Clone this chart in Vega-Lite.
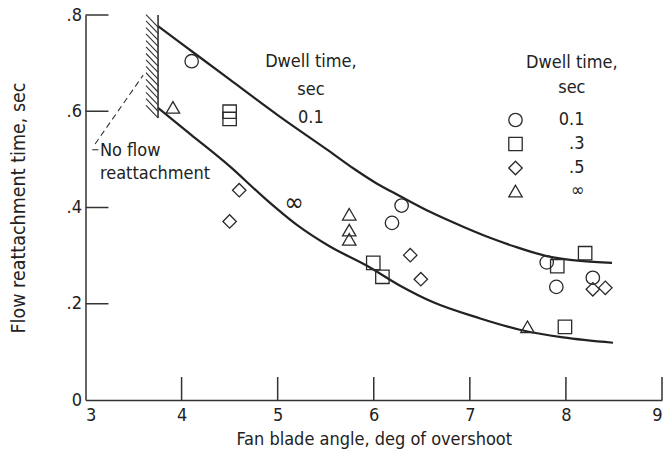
{
  "$schema": "https://vega.github.io/schema/vega-lite/v6.json",
  "width": 576.5,
  "height": 385,
  "autosize": "none",
  "padding": {"left": 85.5, "top": 15, "right": 5, "bottom": 53},
  "background": "white",
  "config": {
    "view": {"stroke": null},
    "font": "DejaVu Sans Condensed, Liberation Sans Narrow, Liberation Sans, sans-serif",
    "axis": {
      "grid": false,
      "domainColor": "#333",
      "domainWidth": 1.5,
      "ticks": false,
      "labelFontSize": 18,
      "labelColor": "#222",
      "titleFontSize": 18,
      "titleFontWeight": "normal",
      "titleColor": "#222",
      "labelFont": "DejaVu Sans Condensed, Liberation Sans Narrow, Liberation Sans, sans-serif",
      "titleFont": "DejaVu Sans Condensed, Liberation Sans Narrow, Liberation Sans, sans-serif"
    },
    "legend": {
      "labelFont": "DejaVu Sans Condensed, Liberation Sans Narrow, Liberation Sans, sans-serif",
      "titleFont": "DejaVu Sans Condensed, Liberation Sans Narrow, Liberation Sans, sans-serif"
    }
  },
  "datasets": {
    "points": [
      {"angle": 4.105, "time": 0.704, "dwell": "0.1"},
      {"angle": 6.29, "time": 0.404, "dwell": "0.1"},
      {"angle": 6.19, "time": 0.368, "dwell": "0.1"},
      {"angle": 7.80, "time": 0.286, "dwell": "0.1"},
      {"angle": 7.90, "time": 0.235, "dwell": "0.1"},
      {"angle": 8.28, "time": 0.254, "dwell": "0.1"},
      {"angle": 4.50, "time": 0.599, "dwell": ".3"},
      {"angle": 4.50, "time": 0.584, "dwell": ".3"},
      {"angle": 5.995, "time": 0.285, "dwell": ".3"},
      {"angle": 6.09, "time": 0.256, "dwell": ".3"},
      {"angle": 8.20, "time": 0.305, "dwell": ".3"},
      {"angle": 7.91, "time": 0.278, "dwell": ".3"},
      {"angle": 7.99, "time": 0.152, "dwell": ".3"},
      {"angle": 4.60, "time": 0.436, "dwell": ".5"},
      {"angle": 4.50, "time": 0.371, "dwell": ".5"},
      {"angle": 6.38, "time": 0.301, "dwell": ".5"},
      {"angle": 6.49, "time": 0.251, "dwell": ".5"},
      {"angle": 8.28, "time": 0.230, "dwell": ".5"},
      {"angle": 8.41, "time": 0.233, "dwell": ".5"},
      {"angle": 3.91, "time": 0.608, "dwell": "∞"},
      {"angle": 5.745, "time": 0.386, "dwell": "∞"},
      {"angle": 5.745, "time": 0.353, "dwell": "∞"},
      {"angle": 5.745, "time": 0.334, "dwell": "∞"},
      {"angle": 7.60, "time": 0.152, "dwell": "∞"}
    ],
    "curves": [
      {"curve": "upper", "angle": 3.755, "time": 0.777},
      {"curve": "upper", "angle": 3.95, "time": 0.748},
      {"curve": "upper", "angle": 4.5, "time": 0.666},
      {"curve": "upper", "angle": 5.0, "time": 0.592},
      {"curve": "upper", "angle": 5.545, "time": 0.516},
      {"curve": "upper", "angle": 5.79, "time": 0.481},
      {"curve": "upper", "angle": 6.03, "time": 0.45},
      {"curve": "upper", "angle": 6.27, "time": 0.424},
      {"curve": "upper", "angle": 6.585, "time": 0.391},
      {"curve": "upper", "angle": 6.93, "time": 0.36},
      {"curve": "upper", "angle": 7.21, "time": 0.337},
      {"curve": "upper", "angle": 7.45, "time": 0.32},
      {"curve": "upper", "angle": 7.8, "time": 0.299},
      {"curve": "upper", "angle": 8.15, "time": 0.289},
      {"curve": "upper", "angle": 8.48, "time": 0.285},
      {"curve": "lower", "angle": 3.755, "time": 0.607},
      {"curve": "lower", "angle": 4.1, "time": 0.551},
      {"curve": "lower", "angle": 4.505, "time": 0.485},
      {"curve": "lower", "angle": 4.85, "time": 0.422},
      {"curve": "lower", "angle": 5.2, "time": 0.364},
      {"curve": "lower", "angle": 5.544, "time": 0.319},
      {"curve": "lower", "angle": 5.93, "time": 0.279},
      {"curve": "lower", "angle": 6.27, "time": 0.238},
      {"curve": "lower", "angle": 6.62, "time": 0.203},
      {"curve": "lower", "angle": 7.1, "time": 0.17},
      {"curve": "lower", "angle": 7.52, "time": 0.146},
      {"curve": "lower", "angle": 7.97, "time": 0.13},
      {"curve": "lower", "angle": 8.49, "time": 0.119}
    ],
    "hatch": [
      {"a1": 3.63, "t1": 0.801, "a2": 3.755, "t2": 0.775},
      {"a1": 3.63, "t1": 0.788, "a2": 3.755, "t2": 0.762},
      {"a1": 3.63, "t1": 0.774, "a2": 3.755, "t2": 0.748},
      {"a1": 3.63, "t1": 0.761, "a2": 3.755, "t2": 0.735},
      {"a1": 3.63, "t1": 0.747, "a2": 3.755, "t2": 0.721},
      {"a1": 3.63, "t1": 0.734, "a2": 3.755, "t2": 0.708},
      {"a1": 3.63, "t1": 0.720, "a2": 3.755, "t2": 0.694},
      {"a1": 3.63, "t1": 0.707, "a2": 3.755, "t2": 0.681},
      {"a1": 3.63, "t1": 0.693, "a2": 3.755, "t2": 0.667},
      {"a1": 3.63, "t1": 0.680, "a2": 3.755, "t2": 0.654},
      {"a1": 3.63, "t1": 0.666, "a2": 3.755, "t2": 0.640},
      {"a1": 3.63, "t1": 0.653, "a2": 3.755, "t2": 0.627},
      {"a1": 3.63, "t1": 0.639, "a2": 3.755, "t2": 0.613},
      {"a1": 3.63, "t1": 0.626, "a2": 3.755, "t2": 0.600},
      {"a1": 3.63, "t1": 0.612, "a2": 3.755, "t2": 0.586}
    ],
    "xticks": [{"value": 4}, {"value": 5}, {"value": 6}, {"value": 7}, {"value": 8}, {"value": 9}],
    "yticks": [{"value": 0.2}, {"value": 0.4}, {"value": 0.6}, {"value": 0.8}]
  },
  "layer": [
    {
      "data": {"name": "hatch"},
      "mark": {"type": "rule", "color": "#333", "strokeWidth": 1.1},
      "encoding": {
        "x": {"field": "a1", "type": "quantitative", "scale": {"domain": [3, 9], "nice": false, "zero": false},
          "axis": {"values": [3, 4, 5, 6, 7, 8, 9], "format": "d", "title": "Fan blade angle, deg of overshoot", "labelPadding": 6, "titlePadding": 6}},
        "y": {"field": "t1", "type": "quantitative", "scale": {"domain": [0, 0.8], "nice": false},
          "axis": {"values": [0, 0.2, 0.4, 0.6, 0.8], "title": "Flow reattachment time, sec", "labelPadding": 4, "titlePadding": 38, "titleFontSize": 19.5,
            "labelExpr": "datum.value == 0 ? '0' : replace(format(datum.value, '.1f'), '0.', '.')"}},
        "x2": {"field": "a2"},
        "y2": {"field": "t2"}
      }
    },
    {
      "data": {"name": "xticks"},
      "mark": {"type": "rule", "color": "#333", "strokeWidth": 1.5},
      "encoding": {
        "x": {"field": "value", "type": "quantitative"},
        "y": {"datum": 0, "type": "quantitative"},
        "y2": {"datum": 0.0478}
      }
    },
    {
      "data": {"name": "yticks"},
      "mark": {"type": "rule", "color": "#333", "strokeWidth": 1.5},
      "encoding": {
        "y": {"field": "value", "type": "quantitative"},
        "x": {"datum": 3, "type": "quantitative"},
        "x2": {"datum": 3.239}
      }
    },
    {
      "data": {"name": "curves"},
      "mark": {"type": "line", "color": "#222", "strokeWidth": 2.2, "interpolate": "monotone"},
      "encoding": {
        "x": {"field": "angle", "type": "quantitative"},
        "y": {"field": "time", "type": "quantitative"},
        "detail": {"field": "curve"}
      }
    },
    {
      "data": {"values": [{}]},
      "mark": {"type": "rule", "color": "#333", "strokeWidth": 1.6},
      "encoding": {
        "x": {"datum": 3.755, "type": "quantitative"},
        "y": {"datum": 0.8, "type": "quantitative"},
        "y2": {"datum": 0.586}
      }
    },
    {
      "data": {"values": [{}]},
      "mark": {"type": "rule", "color": "#333", "strokeWidth": 1.1, "strokeDash": [6, 4]},
      "encoding": {
        "x": {"datum": 3.1, "type": "quantitative"},
        "y": {"datum": 0.532, "type": "quantitative"},
        "x2": {"datum": 3.6},
        "y2": {"datum": 0.675}
      }
    },
    {
      "data": {"values": [{}]},
      "mark": {"type": "rule", "color": "#333", "strokeWidth": 1.1},
      "encoding": {
        "x": {"datum": 3.07, "type": "quantitative"},
        "y": {"datum": 0.52, "type": "quantitative"},
        "x2": {"datum": 3.135},
        "y2": {"datum": 0.52}
      }
    },
    {
      "data": {"name": "points"},
      "mark": {"type": "point", "filled": false, "color": "#2a2a2a", "strokeWidth": 1.3, "size": 180, "opacity": 1},
      "encoding": {
        "x": {"field": "angle", "type": "quantitative"},
        "y": {"field": "time", "type": "quantitative"},
        "shape": {
          "field": "dwell", "type": "nominal",
          "scale": {"domain": ["0.1", ".3", ".5", "∞"], "range": ["circle", "square", "diamond", "triangle-up"]},
          "legend": {
            "title": null,
            "orient": "none",
            "legendX": 421,
            "legendY": 96,
            "padding": 0,
            "labelFontSize": 18,
            "labelColor": "#222",
            "labelAlign": "right",
            "labelOffset": 60,
            "symbolSize": 180,
            "symbolStrokeWidth": 1.3,
            "symbolStrokeColor": "#2a2a2a",
            "symbolFillColor": "transparent",
            "rowPadding": 4
          }
        }
      }
    },
    {
      "data": {"values": [{}]},
      "mark": {"type": "text", "fontSize": 18, "color": "#222", "align": "center", "baseline": "middle", "lineHeight": 25},
      "encoding": {
        "x": {"datum": 8.062, "type": "quantitative"},
        "y": {"datum": 0.7003, "type": "quantitative"},
        "text": {"value": ["Dwell time,", "sec"]}
      }
    },
    {
      "data": {"values": [{}]},
      "mark": {"type": "text", "fontSize": 26, "color": "#222", "baseline": "middle"},
      "encoding": {
        "x": {"datum": 5.17, "type": "quantitative"},
        "y": {"datum": 0.409, "type": "quantitative"},
        "text": {"value": "∞"}
      }
    },
    {
      "data": {"values": [{}]},
      "mark": {"type": "text", "fontSize": 18, "color": "#222", "align": "left", "baseline": "middle", "lineHeight": 23},
      "encoding": {
        "x": {"datum": 3.15, "type": "quantitative"},
        "y": {"datum": 0.5165, "type": "quantitative"},
        "text": {"value": ["No flow", "reattachment"]}
      }
    },
    {
      "data": {"values": [{}]},
      "mark": {"type": "text", "fontSize": 18, "color": "#222", "align": "center", "baseline": "middle", "lineHeight": 28},
      "encoding": {
        "x": {"datum": 5.346, "type": "quantitative"},
        "y": {"datum": 0.7023, "type": "quantitative"},
        "text": {"value": ["Dwell time,", "sec", "0.1"]}
      }
    }
  ]
}
